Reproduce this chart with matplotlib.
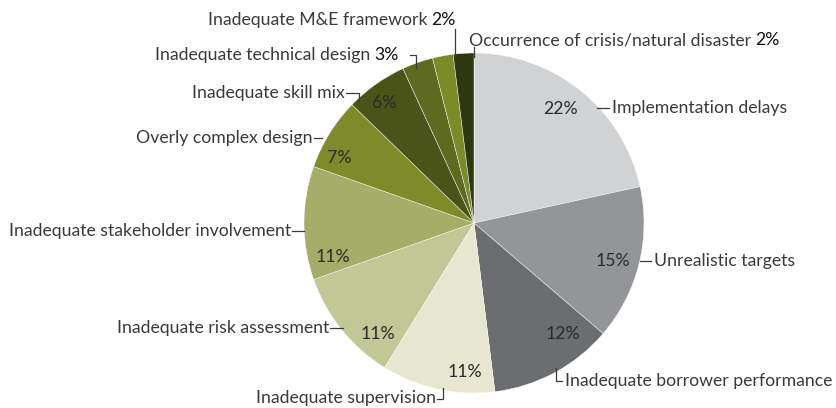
import matplotlib.pyplot as plt

causes = ["Implementation delays", "Unrealistic targets", "Inadequate borrower performance",
          "Inadequate supervision", "Inadequate risk assessment",
          "Inadequate stakeholder involvement", "Overly complex design",
          "Inadequate skill mix", "Inadequate technical design",
          "Inadequate M&E framework", "Occurrence of crisis/natural disaster"]
shares = [22, 15, 12, 11, 11, 11, 7, 6, 3, 2, 2]
colors = ["#d1d2d4", "#939598", "#6c6d71", "#e6e6d1", "#c2c796", "#a6ad69",
          "#7f8b29", "#4a5418", "#5d6a1f", "#7a8b27", "#2e3810"]

W, H = 836, 408


def P(x, y):
    # pixel position (from top-left) -> data coords
    return x, H - y


def main():
    plt.rcParams["font.family"] = ["Lato", "DejaVu Sans"]
    fig = plt.figure(figsize=(W / 100, H / 100), dpi=100)
    ax = fig.add_axes([0, 0, 1, 1])

    ax.pie(shares, colors=colors, startangle=90, counterclock=False,
           center=P(474, 223), radius=170,
           wedgeprops=dict(edgecolor="white", linewidth=0.3))
    ax.set_xlim(0, W)
    ax.set_ylim(0, H)
    ax.set_aspect("equal")
    ax.axis("off")

    tc = "#3a3a3a"
    fs = 12.7
    lw = 0.9

    # percentages inside the slices (skip the three tiny ones)
    pct_pos = [(560, 109), (613, 261), (563, 334), (465, 372), (378, 334),
               (333, 257), (339, 158), (384, 103)]
    for (x, y), v in zip(pct_pos, shares):
        ax.text(*P(x, y), f"{v}%", ha="center", va="center", fontsize=fs,
                color="#2a2a2a")

    def label(i, x, y, ha, pct=False):
        t = ax.text(*P(x, y), causes[i], ha=ha, va="center", fontsize=fs,
                    color=tc)
        if pct:
            fig.canvas.draw()
            bb = t.get_window_extent()
            ax.text(bb.x1 + 4, H - y, f"{shares[i]}%", ha="left", va="center",
                    fontsize=fs, color="#111111")

    def line(pts):
        xs = [p[0] for p in pts]
        ys = [H - p[1] for p in pts]
        ax.plot(xs, ys, color=tc, lw=lw, solid_joinstyle="miter")

    label(0, 612, 108, "left")
    line([(597, 108), (609, 108)])

    label(1, 654, 261, "left")
    line([(640, 261), (651, 261)])

    label(2, 565, 381, "left")
    line([(556, 368), (556, 381), (562, 381)])

    label(3, 436, 398, "right")
    line([(437, 399), (443, 399), (443, 388)])

    label(4, 329, 328, "right")
    line([(330, 328), (343, 328)])

    label(5, 291, 231, "right")
    line([(292, 231), (304, 231)])

    label(6, 313, 138, "right")
    line([(314, 138), (322, 138)])

    label(7, 345, 93, "right")
    line([(346, 93), (359, 93), (359, 101)])

    label(8, 155, 55, "left", pct=True)
    line([(410, 55), (416, 55), (416, 68)])

    label(9, 208, 20, "left", pct=True)
    line([(455, 29), (455, 58)])

    label(10, 469, 40, "left", pct=True)
    line([(474, 47), (474, 57)])

    fig.savefig("out.png", dpi=100)


main()
